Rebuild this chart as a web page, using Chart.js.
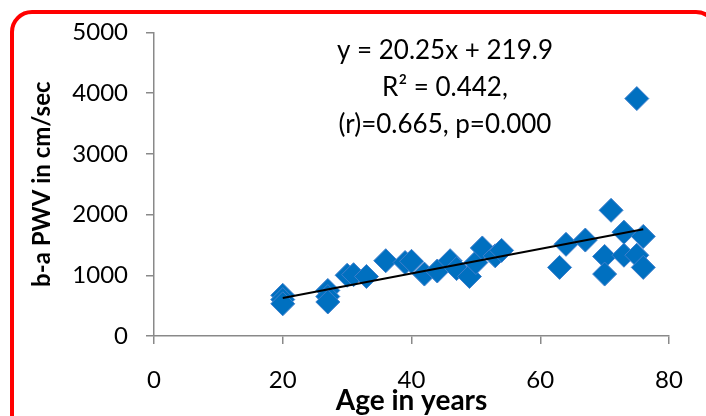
<!DOCTYPE html>
<html>
<head>
<meta charset="utf-8">
<script src="https://cdn.jsdelivr.net/npm/chart.js"></script>
<style>
  html, body { margin: 0; padding: 0; background: #fff; overflow: hidden; }
  #wrap { position: relative; width: 706px; height: 416px; overflow: hidden; }
  #frame { position: absolute; left: 10px; top: 10px; width: 700px; height: 440px;
           border: 4px solid #ff0000; border-radius: 22px; }
  #myChart { position: absolute; left: 0; top: 0; }
</style>
</head>
<body>
<div id="wrap">
  <div id="frame"></div>
  <canvas id="myChart" width="706" height="416"></canvas>
</div>
<script>
// age (years) vs b-a PWV (cm/sec)
var ages = [20, 20, 20, 27, 27, 27, 30, 31, 33, 36, 39, 40, 42, 44, 46, 47, 49, 50, 51, 53, 54,
            63, 64, 67, 71, 70, 70, 73, 73, 75, 76, 76, 75];
var pwv  = [670, 600, 530, 750, 650, 560, 1000, 1010, 980, 1240, 1210, 1230, 1020, 1070, 1240, 1110, 980, 1210, 1450, 1320, 1410,
            1130, 1510, 1580, 2070, 1310, 1020, 1710, 1330, 1330, 1640, 1130, 3910];

// linear trend line end points (y = 20.25x + 219.9)
var trendX = [20, 76];
var trendY = [625, 1759];

var xTicks = [0, 20, 40, 60, 80];
var yTicks = [0, 1000, 2000, 3000, 4000, 5000];

var noteLines = ["y = 20.25x + 219.9", "R\u00b2 = 0.442,", "(r)=0.665, p=0.000"];

var FONT = "Lato, 'Open Sans', sans-serif";

var scatterData = [];
for (i = 0; i < ages.length; i++) {
    scatterData.push({x: ages[i], y: pwv[i]});
}
var trendData = [];
for (i = 0; i < trendX.length; i++) {
    trendData.push({x: trendX[i], y: trendY[i]});
}

// equation text in the upper middle of the plot
var notePlugin = {
    id: 'note',
    afterDatasetsDraw: function(chart) {
        var ctx = chart.ctx;
        ctx.save();
        ctx.font = "26px " + FONT;
        ctx.fillStyle = '#000';
        ctx.textAlign = 'center';
        ctx.textBaseline = 'middle';
        var cx = chart.scales.x.getPixelForValue(45.2);
        for (i = 0; i < noteLines.length; i++) {
            ctx.fillText(noteLines[i], cx, 51 + i * 37);
        }
        ctx.restore();
    }
};

var ctx = document.getElementById('myChart');
var myChart = new Chart(ctx, {
    type: 'scatter',
    data: {
        datasets: [{
            label: 'PWV',
            data: scatterData,
            pointStyle: 'rectRot',
            pointRadius: 12,
            backgroundColor: '#0070c0',
            borderColor: '#3f7fcc',
            borderWidth: 1,
            order: 2
        }, {
            label: 'Trend',
            type: 'line',
            data: trendData,
            borderColor: '#000',
            borderWidth: 2,
            pointRadius: 0,
            fill: false,
            order: 1
        }]
    },
    plugins: [notePlugin],
    options: {
        responsive: false,
        animation: false,
        layout: { padding: { top: 29, right: 37, bottom: 0, left: 0 } },
        plugins: {
            legend: { display: false },
            tooltip: { enabled: false }
        },
        scales: {
            x: {
                type: 'linear',
                min: 0,
                max: 80,
                afterBuildTicks: function(scale) {
                    scale.ticks = xTicks.map(function(v) { return {value: v}; });
                },
                afterFit: function(scale) { scale.height = 80; },
                grid: { drawOnChartArea: false, color: '#898989', lineWidth: 1.5, tickLength: 8 },
                border: { color: '#898989', width: 1.5 },
                ticks: { color: '#000', padding: 22, font: { family: FONT, size: 24 },
                         callback: function(v) { return String(v); } },
                title: {
                    display: true,
                    text: 'Age in years',
                    color: '#000',
                    padding: { top: 0, bottom: -2 },
                    font: { family: FONT, size: 28, weight: 'bold' }
                }
            },
            y: {
                min: 0,
                max: 5000,
                afterBuildTicks: function(scale) {
                    scale.ticks = yTicks.map(function(v) { return {value: v}; });
                },
                afterFit: function(scale) { scale.width = 154; },
                grid: { drawOnChartArea: false, color: '#898989', lineWidth: 1.5, tickLength: 8 },
                border: { color: '#898989', width: 1.5 },
                ticks: { color: '#000', padding: 18, font: { family: FONT, size: 24 },
                         callback: function(v) { return String(v); } },
                title: {
                    display: true,
                    text: 'b-a PWV in cm/sec',
                    color: '#000',
                    padding: { top: 28, bottom: 0 },
                    font: { family: FONT, size: 24, weight: 'bold' }
                }
            }
        }
    }
});
</script>
</body>
</html>
